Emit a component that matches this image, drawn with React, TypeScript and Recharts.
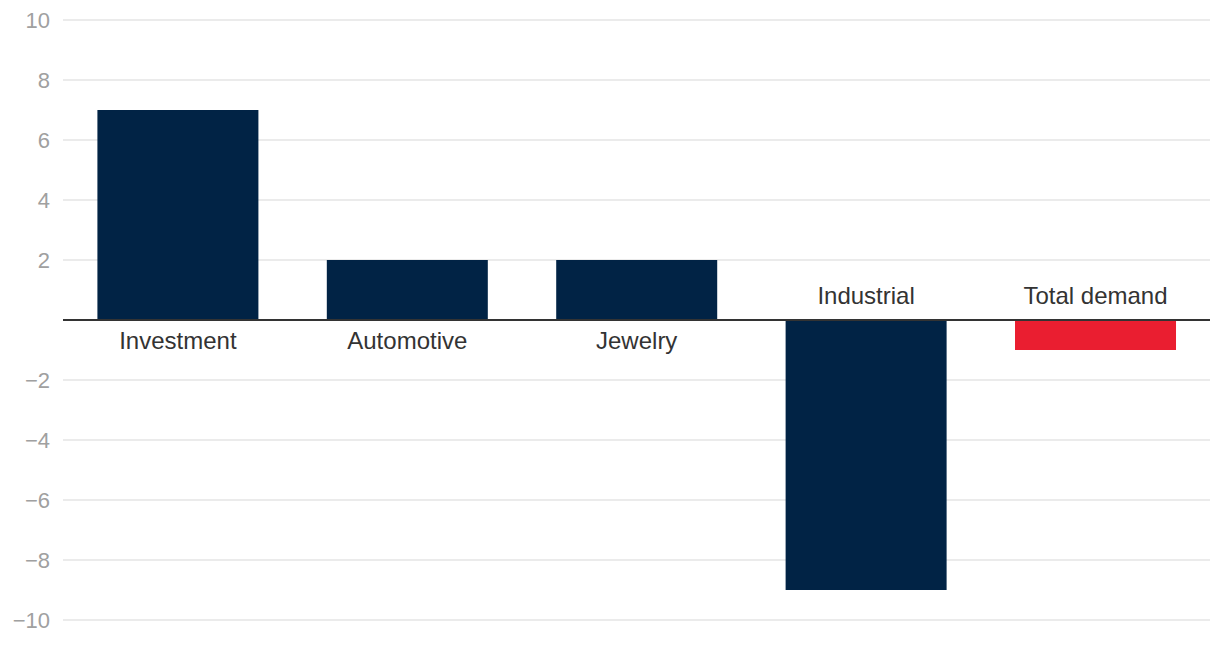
import React from 'react';
import {
  BarChart,
  Bar,
  XAxis,
  YAxis,
  CartesianGrid,
  ReferenceLine,
  LabelList,
  Cell
} from 'recharts';

const categories = ['Investment', 'Automotive', 'Jewelry', 'Industrial', 'Total demand'];
const changes = [7, 2, 2, -9, -1];
const yTicks = [-10, -8, -6, -4, -2, 2, 4, 6, 8, 10];

const NAVY = '#012345';
const RED = '#ea1e30';
const FONT = "'Liberation Sans', Arial, Helvetica, sans-serif";

const data = categories.map((name, i) => ({
  name,
  value: changes[i],
  color: name === 'Total demand' ? RED : NAVY
}));

const formatTick = (v: number) => (v < 0 ? '\u2212' + Math.abs(v) : String(v));

// category name sits on the opposite side of the zero line from the bar
const CategoryLabel = (props: any) => {
  const { x, y, width, height, value, index } = props;
  const top = Math.min(y, y + height);
  const bottom = Math.max(y, y + height);
  const zeroY = value >= 0 ? bottom : top;
  const ty = value >= 0 ? zeroY + 20 : zeroY - 25;
  return (
    <text
      x={x + width / 2}
      y={ty}
      textAnchor="middle"
      dominantBaseline="central"
      fontSize={24}
      fill="#333"
      fontFamily={FONT}
    >
      {categories[index]}
    </text>
  );
};

export default function App() {
  return (
    <div style={{ position: 'absolute', left: 0, top: 0, background: '#fff' }}>
      <BarChart
        width={1220}
        height={650}
        data={data}
        margin={{ top: 20, right: 10, left: 0, bottom: 30 }}
        barCategoryGap="15%"
      >
        <CartesianGrid vertical={false} stroke="#e4e4e4" strokeWidth={1.5} />
        <XAxis dataKey="name" hide />
        <YAxis
          width={63}
          domain={[-10, 10]}
          ticks={yTicks}
          interval={0}
          axisLine={false}
          tickLine={false}
          tickSize={0}
          tickMargin={13}
          tickFormatter={formatTick}
          tick={{ fill: '#a0a0a0', fontSize: 22, fontFamily: FONT }}
        />
        <Bar dataKey="value" isAnimationActive={false}>
          {data.map((entry, index) => (
            <Cell key={`cell-${index}`} fill={entry.color} />
          ))}
          <LabelList dataKey="value" content={CategoryLabel} />
        </Bar>
        <ReferenceLine y={0} stroke="#333" strokeWidth={2} />
      </BarChart>
    </div>
  );
}
